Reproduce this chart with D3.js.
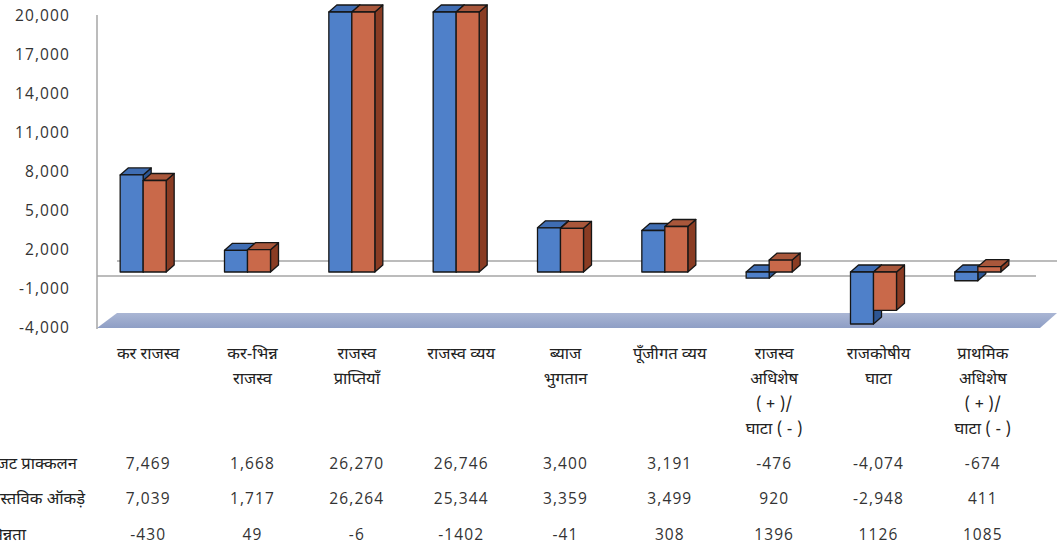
<!DOCTYPE html>
<html>
<head>
<meta charset="utf-8">
<script src="https://cdn.jsdelivr.net/npm/d3@7"></script>
<style>
  html, body { margin: 0; padding: 0; background: #fff; }
  svg { display: block; }
  .num { font-family: "Open Sans", "Noto Sans", sans-serif; font-size: 15.5px; fill: #333; letter-spacing: 1.1px; }
  .dev { font-family: "Noto Sans Devanagari", "Lohit Devanagari", "FreeSans", "Noto Sans", sans-serif; font-size: 16.5px; fill: #222; }
</style>
</head>
<body>
<svg id="chart" width="1063" height="550"></svg>
<script>
// ---- data ----
const categories = [
  ["कर राजस्व"],
  ["कर-भिन्न", "राजस्व"],
  ["राजस्व", "प्राप्तियाँ"],
  ["राजस्व व्यय"],
  ["ब्याज", "भुगतान"],
  ["पूँजीगत व्यय"],
  ["राजस्व", "अधिशेष", "( + )/", "घाटा ( - )"],
  ["राजकोषीय", "घाटा"],
  ["प्राथमिक", "अधिशेष", "( + )/", "घाटा ( - )"]
];
const budgetEstimate = [7469, 1668, 26270, 26746, 3400, 3191, -476, -4074, -674];
const actualFigures  = [7039, 1717, 26264, 25344, 3359, 3499, 920, -2948, 411];
const variation      = [-430, 49, -6, -1402, -41, 308, 1396, 1126, 1085];
const rowLabels = ["बजट प्राक्कलन", "वास्तविक ऑकड़े", "भिन्नता"];
const yTicks = [20000, 17000, 14000, 11000, 8000, 5000, 2000, -1000, -4000];

// ---- setup ----
const svg = d3.select("#chart");
const keys = categories.map((c, i) => "c" + i);
const x = d3.scaleBand().domain(keys).range([91, 1030]);
const y = d3.scaleLinear().domain([-4000, 20000]).range([328, 16]);
const yMin = -4000, yMax = 20000;

const depthX = 20, depthY = -15;   // wall depth
const barOffY = -4;                // bar plane offset
const bdx = 8, bdy = -7;           // bar depth
const barW = 23;

// back zero line
svg.append("line")
  .attr("x1", 97 + depthX).attr("x2", 1037 + depthX)
  .attr("y1", y(0) + depthY).attr("y2", y(0) + depthY)
  .attr("stroke", "#a6a6a6").attr("stroke-width", 1.5);

// floor
const grad = svg.append("defs").append("linearGradient")
  .attr("id", "floorGrad").attr("x1", 0).attr("x2", 0).attr("y1", 0).attr("y2", 1);
grad.append("stop").attr("offset", "0%").attr("stop-color", "#aab6d4");
grad.append("stop").attr("offset", "100%").attr("stop-color", "#8e9ec5");
const fy = y(yMin);
svg.append("path")
  .attr("d", `M97,${fy} L${97 + depthX},${fy + depthY} L${1040 + depthX - 3},${fy + depthY} L1040,${fy} Z`)
  .attr("fill", "url(#floorGrad)");

// vertical axis line
svg.append("line")
  .attr("x1", 97).attr("x2", 97).attr("y1", 15).attr("y2", fy + 1)
  .attr("stroke", "#a6a6a6").attr("stroke-width", 1.5);

// front zero line
svg.append("line")
  .attr("x1", 97).attr("x2", 1036)
  .attr("y1", y(0)).attr("y2", y(0))
  .attr("stroke", "#a6a6a6").attr("stroke-width", 1.5);

// y tick labels
const fmt = v => d3.format(",")(v).replace("−", "-");
svg.append("g").selectAll("text").data(yTicks).join("text")
  .attr("class", "num")
  .attr("x", 70).attr("y", d => y(d) + 1)
  .attr("text-anchor", "end").attr("dominant-baseline", "middle")
  .text(d => fmt(d));

// bars
const series = [
  { values: budgetEstimate, front: "#4f80c9", top: "#3f6db3", side: "#2d5694", off: -barW },
  { values: actualFigures,  front: "#c9694a", top: "#a9573b", side: "#8a3c23", off: 0 }
];
function drawBar(g, cx, v, s) {
  const vc = Math.max(yMin, Math.min(yMax, v));
  const x0 = cx + s.off, x1 = x0 + barW;
  const yTop = y(Math.max(vc, 0)) + barOffY;
  const yBot = y(Math.min(vc, 0)) + barOffY;
  const st = { stroke: "#161616", "stroke-width": 1.3, "stroke-linejoin": "round" };
  const side = g.append("path")
    .attr("d", `M${x1},${yTop} L${x1 + bdx},${yTop + bdy} L${x1 + bdx},${yBot + bdy} L${x1},${yBot} Z`)
    .attr("fill", s.side);
  const top = g.append("path")
    .attr("d", `M${x0},${yTop} L${x0 + bdx},${yTop + bdy} L${x1 + bdx},${yTop + bdy} L${x1},${yTop} Z`)
    .attr("fill", s.top);
  const front = g.append("rect")
    .attr("x", x0).attr("y", yTop).attr("width", barW).attr("height", Math.max(0, yBot - yTop))
    .attr("fill", s.front);
  [side, top, front].forEach(el => Object.entries(st).forEach(([k, val]) => el.attr(k, val)));
}
const barsG = svg.append("g");
keys.forEach((k, i) => {
  const cx = x(k) + x.bandwidth() / 2;
  const g = barsG.append("g");
  series.forEach(s => drawBar(g, cx, s.values[i], s));
});

// category labels
const labG = svg.append("g");
keys.forEach((k, i) => {
  const cx = x(k) + x.bandwidth() / 2 + 5;
  labG.append("g").selectAll("text").data(categories[i]).join("text")
    .attr("class", "dev")
    .attr("x", cx).attr("y", (d, j) => 355 + j * 25)
    .attr("text-anchor", "middle").attr("dominant-baseline", "middle")
    .text(d => d);
});

// table
const rows = [
  { label: rowLabels[0], values: budgetEstimate, f: fmt },
  { label: rowLabels[1], values: actualFigures, f: fmt },
  { label: rowLabels[2], values: variation, f: v => String(v) }
];
const rowY = [465, 500, 536];
rows.forEach((r, ri) => {
  svg.append("text").attr("class", "dev")
    .attr("x", -13).attr("y", rowY[ri]).attr("dominant-baseline", "middle")
    .text(r.label);
  svg.append("g").selectAll("text").data(r.values).join("text")
    .attr("class", "num")
    .attr("x", (d, i) => x(keys[i]) + x.bandwidth() / 2 + 5)
    .attr("y", rowY[ri]).attr("text-anchor", "middle").attr("dominant-baseline", "middle")
    .text(d => r.f(d));
});
</script>
</body>
</html>
